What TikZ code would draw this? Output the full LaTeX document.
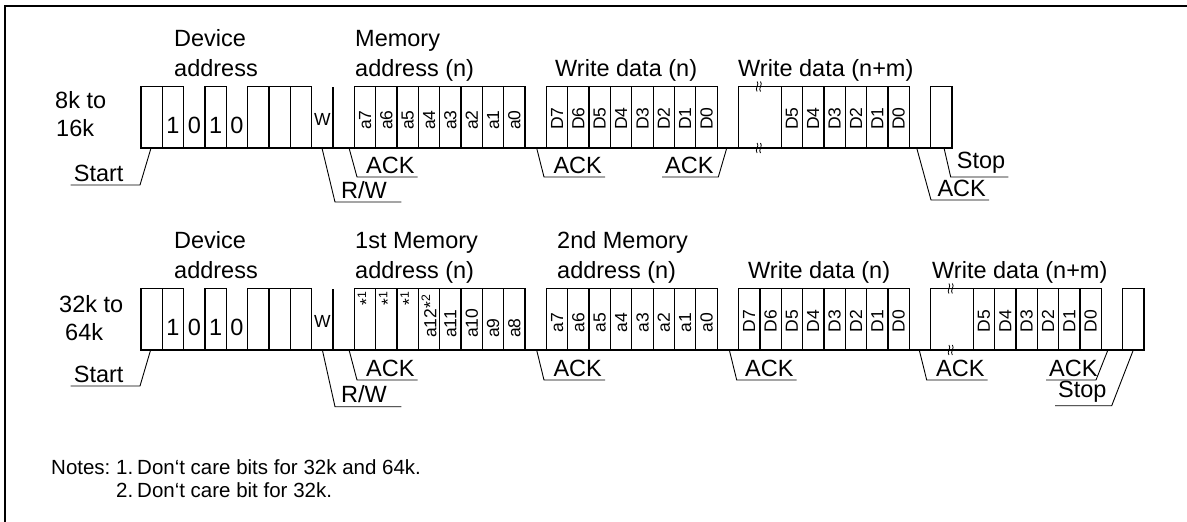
\documentclass[tikz,border=0pt]{standalone}
\usepackage{fontspec}
\setmainfont{Liberation Sans}
\begin{document}
\begin{tikzpicture}[x=1pt, y=-1pt,
    frame/.style = {line width=1.8pt},
    wave/.style = {line width=1.3pt},
    leader/.style = {line width=0.9pt},
    brk/.style = {line width=0.8pt},
    head/.style = {font=\fontsize{23.5}{28}\selectfont, inner sep=0pt, anchor=base west},
    tag/.style = {font=\fontsize{23.5}{28}\selectfont, inner xsep=3pt, inner ysep=3.5pt, anchor=south west},
    digit/.style = {font=\fontsize{23.5}{28}\selectfont, inner sep=0pt, anchor=base},
    rwbit/.style = {font=\fontsize{17.5}{20}\selectfont, inner sep=0pt, anchor=base},
    bitlbl/.style = {font=\fontsize{17.5}{20}\selectfont, inner sep=0pt, rotate=90, anchor=west},
    dcare/.style = {font=\fontsize{17.5}{20}\selectfont, inner sep=0pt, rotate=90, anchor=east},
    note/.style = {font=\fontsize{20.5}{24}\selectfont, inner sep=0pt, anchor=base west}]

    \useasboundingbox (0,0) rectangle (1187,522);
    \draw[frame] (5,522) -- (5,6) -- (1187,6);

    % 8k to 16k
    \node[head] (dev1) at (174,46) {Device};
    \node[head] (adr1) at (174,76) {address};
    \node[head] (mem1) at (355,46) {Memory};
    \node[head] (madr1) at (355,76) {address (n)};
    \node[head] (wd1) at (555,76) {Write data (n)};
    \node[head] (wdm1) at (738,76) {Write data (n+m)};
    \node[head] (size1a) at (55,108.3) {8k to};
    \node[head] (size1b) at (56,136.7) {16k};

    \begin{scope}[shift={(141,148)}, x=21.34pt]
        \draw[wave] (0,0) -- (38,0);
        \foreach \b in {0,1,3,5,6,7,37}
            \draw[wave] (\b,0) rectangle ++(1,-61.5);
        \draw[wave] (9,0) -- (9,-61.5);
        \draw[wave] (28,0) rectangle ++(2,-61.5);
        \foreach \y in {-66.5,-5}
            \foreach \d in {-1.7,1.7}
                \draw[brk] ([xshift=\d pt]28.95,\y) to[out=-45, in=135] ++(0,-10pt);
        \node[digit] (t1) at (1.5,-14.5) {1};
        \node[digit] (t2) at (2.5,-14.5) {0};
        \node[digit] (t3) at (3.5,-14.5) {1};
        \node[digit] (t4) at (4.5,-14.5) {0};
        \node[rwbit] (tw) at (8.5,-23) {W};
        \foreach \t [count=\b from 10] in {a7,a6,a5,a4,a3,a2,a1,a0} {
            \draw[wave] (\b,0) rectangle ++(1,-61.5);
            \node[bitlbl] (ta\b) at (\b+.5,-18) {\t};
        }
        \foreach \t [count=\b from 19] in {D7,D6,D5,D4,D3,D2,D1,D0} {
            \draw[wave] (\b,0) rectangle ++(1,-61.5);
            \node[bitlbl] (td\b) at (\b+.5,-18) {\t};
        }
        \foreach \t [count=\b from 30] in {D5,D4,D3,D2,D1,D0} {
            \draw[wave] (\b,0) rectangle ++(1,-61.5);
            \node[bitlbl] (tm\b) at (\b+.5,-18) {\t};
        }
        \coordinate (t-start) at (0.47,0);
        \coordinate (t-rw) at (8.48,0);
        \coordinate (t-ack1) at (9.75,0);
        \coordinate (t-ack2) at (18.54,0);
        \coordinate (t-ack3) at (27.45,0);
        \coordinate (t-ack4) at (36.35,0);
        \coordinate (t-stop) at (37.63,0);
    \end{scope}

    \node[tag] (t-startl) at (70.7,185) {Start};
    \draw[leader] (t-startl.south west) -- (140,185) -- (t-start);
    \node[tag, text width=57pt] (t-rwl) at (338,202) {R/W};
    \draw[leader] (t-rw) -- (335,202) -- (t-rwl.south east);
    \node[tag] (t-ack1l) at (363,177) {ACK};
    \draw[leader] (t-ack1) -- (357,177) -- (t-ack1l.south east);
    \node[tag] (t-ack2l) at (550.3,177) {ACK};
    \draw[leader] (t-ack2) -- (544,177) -- (t-ack2l.south east);
    \node[tag] (t-ack3l) at (662,177) {ACK};
    \draw[leader] (t-ack3l.south west) -- (718.3,177) -- (t-ack3);
    \node[tag] (t-ack4l) at (934.3,200) {ACK};
    \draw[leader] (t-ack4) -- (931,200) -- (t-ack4l.south east);
    \node[tag] (t-stopl) at (953.7,177) {Stop};
    \draw[leader] (t-stop) -- (950.7,177) -- (t-stopl.south east);

    %--------------------------------------------

    % 32k to 64k
    \node[head] (dev2) at (174,248) {Device};
    \node[head] (adr2) at (174,278) {address};
    \node[head] (mem2a) at (355,248) {1st Memory};
    \node[head] (madr2a) at (355,278) {address (n)};
    \node[head] (mem2b) at (557,248) {2nd Memory};
    \node[head] (madr2b) at (557,278) {address (n)};
    \node[head] (wd2) at (748,278) {Write data (n)};
    \node[head] (wdm2) at (932,278) {Write data (n+m)};
    \node[head] (size2a) at (59,312) {32k to};
    \node[head] (size2b) at (65,340) {64k};

    \begin{scope}[shift={(141,350)}, x=21.34pt]
        \draw[wave] (0,0) -- (47,0);
        \foreach \b in {0,1,3,5,6,7,46}
            \draw[wave] (\b,0) rectangle ++(1,-61.5);
        \draw[wave] (9,0) -- (9,-61.5);
        \draw[wave] (37,0) rectangle ++(2,-61.5);
        \foreach \y in {-66.5,-5}
            \foreach \d in {-1.7,1.7}
                \draw[brk] ([xshift=\d pt]37.94,\y) to[out=-45, in=135] ++(0,-10pt);
        \node[digit] (b1) at (1.5,-14.5) {1};
        \node[digit] (b2) at (2.5,-14.5) {0};
        \node[digit] (b3) at (3.5,-14.5) {1};
        \node[digit] (b4) at (4.5,-14.5) {0};
        \node[rwbit] (bw) at (8.5,-23) {W};
        \foreach \b in {10,11,12} {
            \draw[wave] (\b,0) rectangle ++(1,-61.5);
            \node[dcare] (bx\b) at (\b+.5,-59) {*\textsuperscript{1}};
        }
        \foreach \t [count=\b from 13] in {a12*\textsuperscript{2},a11,a10,a9,a8} {
            \draw[wave] (\b,0) rectangle ++(1,-61.5);
            \node[bitlbl] (bh\b) at (\b+.5,-12) {\t};
        }
        \foreach \t [count=\b from 19] in {a7,a6,a5,a4,a3,a2,a1,a0} {
            \draw[wave] (\b,0) rectangle ++(1,-61.5);
            \node[bitlbl] (bl\b) at (\b+.5,-17.5) {\t};
        }
        \foreach \t [count=\b from 28] in {D7,D6,D5,D4,D3,D2,D1,D0} {
            \draw[wave] (\b,0) rectangle ++(1,-61.5);
            \node[bitlbl] (bd\b) at (\b+.5,-17.5) {\t};
        }
        \foreach \t [count=\b from 39] in {D5,D4,D3,D2,D1,D0} {
            \draw[wave] (\b,0) rectangle ++(1,-61.5);
            \node[bitlbl] (bm\b) at (\b+.5,-17.5) {\t};
        }
        \coordinate (b-start) at (0.45,0);
        \coordinate (b-rw) at (8.5,0);
        \coordinate (b-ack1) at (9.75,0);
        \coordinate (b-ack2) at (18.54,0);
        \coordinate (b-ack3) at (27.57,0);
        \coordinate (b-ack4) at (36.47,0);
        \coordinate (b-ack5) at (45.31,0);
        \coordinate (b-stop) at (46.5,0);
    \end{scope}

    \node[tag] (b-startl) at (70.7,386) {Start};
    \draw[leader] (b-startl.south west) -- (140,386) -- (b-start);
    \node[tag, text width=57pt] (b-rwl) at (338,406.7) {R/W};
    \draw[leader] (b-rw) -- (335,406.7) -- (b-rwl.south east);
    \node[tag] (b-ack1l) at (363,380) {ACK};
    \draw[leader] (b-ack1) -- (357,380) -- (b-ack1l.south east);
    \node[tag] (b-ack2l) at (550.3,380) {ACK};
    \draw[leader] (b-ack2) -- (544,380) -- (b-ack2l.south east);
    \node[tag] (b-ack3l) at (742,380) {ACK};
    \draw[leader] (b-ack3) -- (736.7,380) -- (b-ack3l.south east);
    \node[tag] (b-ack4l) at (933,380) {ACK};
    \draw[leader] (b-ack4) -- (926.7,380) -- (b-ack4l.south east);
    \node[tag] (b-ack5l) at (1046,380) {ACK};
    \draw[leader] (b-ack5l.south west) -- (1096,380) -- (b-ack5);
    \node[tag] (b-stopl) at (1055,405.7) {Stop};
    \draw[leader] (b-stopl.south west) -- (1111.7,405.7) -- (b-stop);

    %--------------------------------------------

    \node[note] (notes) at (51,474.5) {Notes:};
    \node[note] (n1) at (116,474.5) {1.};
    \node[note] (n1t) at (137,474.5) {Don‘t care bits for 32k and 64k.};
    \node[note] (n2) at (116,497.5) {2.};
    \node[note] (n2t) at (137,497.5) {Don‘t care bit for 32k.};

\end{tikzpicture}
\end{document}
